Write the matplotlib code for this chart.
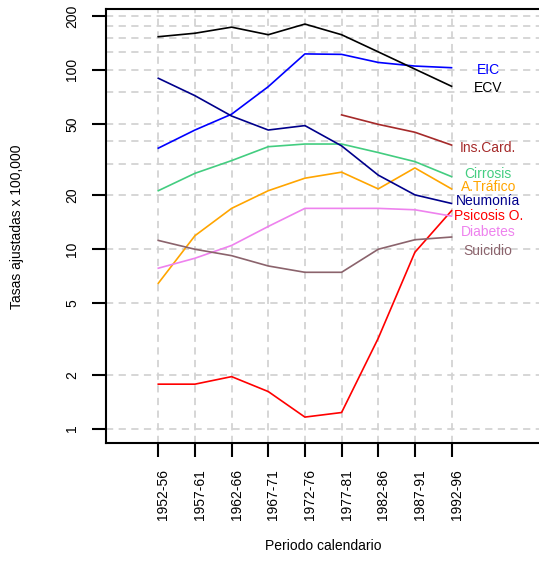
import matplotlib
matplotlib.use("Agg")
import matplotlib.pyplot as plt
from matplotlib.ticker import NullLocator
from matplotlib.transforms import ScaledTranslation

plt.rcParams['font.family'] = ['Liberation Sans', 'DejaVu Sans']

# periodos de calendario (eje x)
periodos = ['1952-56', '1957-61', '1962-66', '1967-71', '1972-76',
            '1977-81', '1982-86', '1987-91', '1992-96']

# tasas ajustadas x 100,000
ecv       = [153, 160, 173, 157, 180, 157, 126, 101, 81]
eic       = [36.6, 46.2, 56.6, 80.6, 122.7, 122, 110, 105, 102.8]
neumonia  = [89.8, 71.8, 55.3, 46.2, 48.9, 37.7, 25.9, 20.1, 18.0]
cirrosis  = [21.2, 26.5, 31.2, 37.3, 38.6, 38.6, 34.6, 30.8, 25.4]
trafico   = [6.46, 11.9, 16.9, 21.2, 24.9, 26.9, 21.7, 28.4, 21.7]
diabetes  = [7.84, 8.91, 10.5, 13.4, 16.9, 16.9, 16.9, 16.6, 15.3]
suicidio  = [11.2, 10.0, 9.21, 8.07, 7.44, 7.44, 10.0, 11.3, 11.7]
psicosis  = [1.77, 1.77, 1.95, 1.61, 1.16, 1.23, 3.19, 9.62, 16.4]
ins_card  = [56.1, 49.7, 44.9, 38.1]   # solo desde 1977-81

nombres  = ['EIC', 'ECV', 'Ins.Card.', 'Cirrosis', 'A.Tráfico',
            'Neumonía', 'Psicosis O.', 'Diabetes', 'Suicidio']
colores  = ['#0000FF', '#000000', '#A52A2A', '#43CD80', '#FFA500',
            '#00008B', '#FF0000', '#EE82EE', '#8B636C']
# altura de cada etiqueta a la derecha
pos_etiq = [100, 78.9, 36.9, 26.3, 22.3, 18.6, 15.3, 12.4, 9.8]

ticks_y   = [1, 2, 5, 10, 20, 50, 100, 200]
rejilla_y = [1, 2, 5, 10, 20, 30, 40, 50, 75, 100, 125, 150, 175, 200]

x = list(range(1, len(periodos) + 1))
x_ic = x[5:]

fig = plt.figure(figsize=(5.39, 5.61), dpi=100)
ax = fig.add_axes([105.7 / 539, 1 - 442.7 / 561,
                   (541 - 105.7) / 539, (442.7 - 9) / 561])
ax.set_yscale('log')
ax.set_xlim(-0.434, 11.44)
ax.set_ylim(0.835, 218.4)

# rejilla a trazos
for v in rejilla_y:
    ax.axhline(v, color='#D3D3D3', lw=1.3, ls=(0, (4, 3)), zorder=0)
for i in x:
    ax.axvline(i, color='#D3D3D3', lw=1.3, ls=(0, (4, 3)), zorder=0)

series = [eic, ecv, ins_card, cirrosis, trafico,
          neumonia, psicosis, diabetes, suicidio]
for nom, serie, col, yl in zip(nombres, series, colores, pos_etiq):
    xs = x_ic if nom == 'Ins.Card.' else x
    ax.plot(xs, serie, color=col, lw=1.2)
    ax.text(10, yl, nom, color=col, fontsize=10, ha='center', va='center')

# ejes estilo R
ax.spines['right'].set_visible(False)
for s in ['left', 'top', 'bottom']:
    ax.spines[s].set_linewidth(1.5)

ax.set_yticks(ticks_y)
ax.set_yticklabels([str(t) for t in ticks_y], rotation=90, va='center')
ax.yaxis.set_minor_locator(NullLocator())
ax.set_xticks(x)
ax.set_xticklabels(periodos, rotation=90, ha='center', va='top')
ax.tick_params(length=10, width=1.5, labelsize=10)
ax.tick_params(axis='y', pad=9)
ax.tick_params(axis='x', pad=9)
for lab in ax.get_xticklabels():
    lab.set_transform(lab.get_transform() +
                      ScaledTranslation(0.05, 0, fig.dpi_scale_trans))

fig.text(17 / 539, 1 - 226.8 / 561, 'Tasas ajustadas x 100,000',
         rotation=90, ha='center', va='center', fontsize=10)
fig.text(323.3 / 539, 1 - 546.5 / 561, 'Periodo calendario',
         ha='center', va='center', fontsize=10)

fig.savefig('out.png', dpi=100)
